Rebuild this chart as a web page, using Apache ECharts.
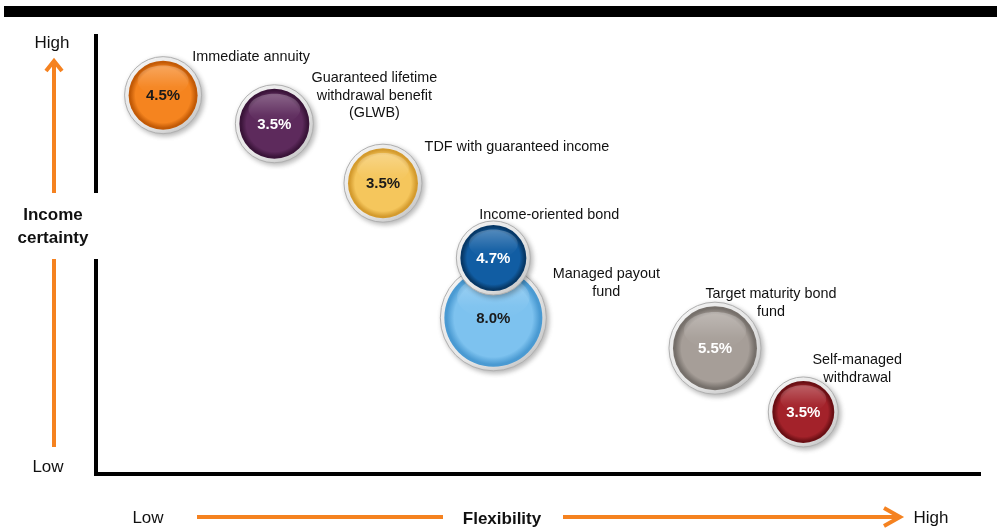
<!DOCTYPE html>
<html>
<head>
<meta charset="utf-8">
<script src="https://cdn.jsdelivr.net/npm/echarts@6/dist/echarts.min.js"></script>
<style>
  html, body { margin: 0; padding: 0; background: #ffffff; }
  #chart { width: 997px; height: 529px; }
</style>
</head>
<body>
<div id="chart"></div>
<script>
// Retirement income products: flexibility vs. income certainty, with payout rate
const products = [
  'Immediate annuity',
  'Guaranteed lifetime\nwithdrawal benefit\n(GLWB)',
  'TDF with guaranteed income',
  'Managed payout\nfund',
  'Income-oriented bond',
  'Target maturity bond\nfund',
  'Self-managed\nwithdrawal'
];
const flexibility     = [7.6, 20.2, 32.5, 45.0, 45.0, 70.1, 80.1];
const incomeCertainty = [86.1, 79.6, 66.1, 35.5, 49.1, 28.6, 14.1];
const payoutRate      = [4.5, 3.5, 3.5, 8.0, 4.7, 5.5, 3.5];
const bubbleSize      = [77, 78, 78, 106, 74, 92, 70];
const yEnds = ['Low', 'High'];
const xEnds = ['Low', 'High'];
const yTitle = 'Income\ncertainty';
const xTitle = 'Flexibility';

// Styling per bubble
const palette = [
  { light: '#FBA550', base: '#F5841F', dark: '#C25A06', text: '#1a1a1a' },
  { light: '#7A4676', base: '#5D2A5C', dark: '#3A1439', text: '#ffffff' },
  { light: '#FBDA86', base: '#F5C65C', dark: '#D49B2E', text: '#1a1a1a' },
  { light: '#A2D6F6', base: '#7DC2EF', dark: '#4A9AD2', text: '#1a1a1a' },
  { light: '#2E7BC2', base: '#115DA3', dark: '#073866', text: '#ffffff' },
  { light: '#BFB8B2', base: '#A69E98', dark: '#76706B', text: '#ffffff' },
  { light: '#C2424A', base: '#A3222A', dark: '#6A0F14', text: '#ffffff' }
];
// name label offsets from bubble centre (px)
const nameOffset = [[88, -38], [100, -28], [134, -36], [113, -35], [56, -43], [56, -45], [54, -43]];

const FONT = '"Liberation Sans", Arial, Helvetica, sans-serif';
const ORANGE = '#F58220';

function renderBubble(params, api) {
  const i = params.dataIndex;
  const p = api.coord([api.value(0), api.value(1)]);
  const r = api.value(2) / 2;
  const ri = r - 4;
  const pal = palette[i];
  const off = nameOffset[i];
  const G = echarts.graphic;
  return {
    type: 'group',
    children: [
      {
        type: 'circle',
        shape: { cx: p[0], cy: p[1], r: r },
        style: {
          fill: new G.LinearGradient(0, 0, 1, 1, [
            { offset: 0, color: '#ffffff' },
            { offset: 0.55, color: '#ededed' },
            { offset: 1, color: '#bdbdbd' }
          ]),
          stroke: '#b0b0b0',
          lineWidth: 1,
          shadowBlur: 5,
          shadowOffsetX: 2,
          shadowOffsetY: 2,
          shadowColor: 'rgba(0,0,0,0.28)'
        }
      },
      {
        type: 'circle',
        shape: { cx: p[0], cy: p[1], r: ri },
        style: {
          fill: new G.RadialGradient(0.5, 0.5, 0.5, [
            { offset: 0, color: pal.base },
            { offset: 0.8, color: pal.base },
            { offset: 0.95, color: pal.dark },
            { offset: 1, color: pal.dark }
          ])
        }
      },
      {
        type: 'ellipse',
        shape: { cx: p[0], cy: p[1] - ri * 0.42, rx: ri * 0.74, ry: ri * 0.44 },
        style: {
          fill: new G.LinearGradient(0, 0, 0, 1, [
            { offset: 0, color: 'rgba(255,255,255,0.28)' },
            { offset: 0.7, color: 'rgba(255,255,255,0.04)' },
            { offset: 1, color: 'rgba(255,255,255,0)' }
          ])
        }
      },
      {
        type: 'text',
        style: {
          text: api.value(3).toFixed(1) + '%',
          x: p[0], y: p[1] + 1,
          align: 'center', verticalAlign: 'middle',
          font: 'bold 15px ' + FONT,
          fill: pal.text
        }
      },
      {
        type: 'text',
        style: {
          text: products[i],
          x: p[0] + off[0], y: p[1] + off[1],
          align: 'center', verticalAlign: 'middle',
          font: '14.4px ' + FONT,
          lineHeight: 17.5,
          fill: '#111111'
        }
      }
    ]
  };
}

const chart = echarts.init(document.getElementById('chart'), null, { renderer: 'canvas' });

chart.setOption({
  animation: false,
  backgroundColor: '#ffffff',
  grid: { left: 96, right: 18, top: 34, bottom: 55 },
  xAxis: {
    type: 'value', min: 0, max: 100,
    axisLine: { show: true, onZero: false, lineStyle: { color: '#000000', width: 4, cap: 'square' } },
    axisTick: { show: false }, axisLabel: { show: false }, splitLine: { show: false }
  },
  yAxis: {
    type: 'value', min: 0, max: 100,
    axisLine: { show: false }, axisTick: { show: false },
    axisLabel: { show: false }, splitLine: { show: false }
  },
  series: [{
    type: 'custom',
    renderItem: renderBubble,
    data: flexibility.map((x, i) => [x, incomeCertainty[i], bubbleSize[i], payoutRate[i]]),
    clip: false
  }],
  graphic: [
    // header band
    { type: 'rect', shape: { x: 4, y: 6, width: 993, height: 11 }, style: { fill: '#000000' } },
    // vertical axis, broken around its title
    { type: 'line', shape: { x1: 96, y1: 34, x2: 96, y2: 193 }, style: { stroke: '#000', lineWidth: 4 } },
    { type: 'line', shape: { x1: 96, y1: 259, x2: 96, y2: 476 }, style: { stroke: '#000', lineWidth: 4 } },
    // income certainty arrow
    { type: 'line', shape: { x1: 54, y1: 447, x2: 54, y2: 259 }, style: { stroke: ORANGE, lineWidth: 4 } },
    { type: 'line', shape: { x1: 54, y1: 193, x2: 54, y2: 62 }, style: { stroke: ORANGE, lineWidth: 4 } },
    { type: 'polyline', shape: { points: [[46, 71], [54, 61], [62, 71]] }, style: { stroke: ORANGE, lineWidth: 4, fill: null, lineJoin: 'miter' } },
    { type: 'text', style: { text: yEnds[1], x: 52, y: 43, align: 'center', verticalAlign: 'middle', font: '17px ' + FONT, fill: '#111' } },
    { type: 'text', style: { text: yEnds[0], x: 48, y: 467, align: 'center', verticalAlign: 'middle', font: '17px ' + FONT, fill: '#111' } },
    { type: 'text', style: { text: yTitle, x: 53, y: 227, align: 'center', verticalAlign: 'middle', font: 'bold 17px ' + FONT, lineHeight: 23, fill: '#111' } },
    // flexibility arrow
    { type: 'line', shape: { x1: 197, y1: 517, x2: 443, y2: 517 }, style: { stroke: ORANGE, lineWidth: 4 } },
    { type: 'line', shape: { x1: 563, y1: 517, x2: 899, y2: 517 }, style: { stroke: ORANGE, lineWidth: 4 } },
    { type: 'polyline', shape: { points: [[884, 508], [900, 517], [884, 526]] }, style: { stroke: ORANGE, lineWidth: 4, fill: null, lineJoin: 'miter' } },
    { type: 'text', style: { text: xEnds[0], x: 148, y: 518, align: 'center', verticalAlign: 'middle', font: '17px ' + FONT, fill: '#111' } },
    { type: 'text', style: { text: xEnds[1], x: 931, y: 518, align: 'center', verticalAlign: 'middle', font: '17px ' + FONT, fill: '#111' } },
    { type: 'text', style: { text: xTitle, x: 502, y: 519, align: 'center', verticalAlign: 'middle', font: 'bold 17px ' + FONT, fill: '#111' } }
  ]
});
</script>
</body>
</html>
